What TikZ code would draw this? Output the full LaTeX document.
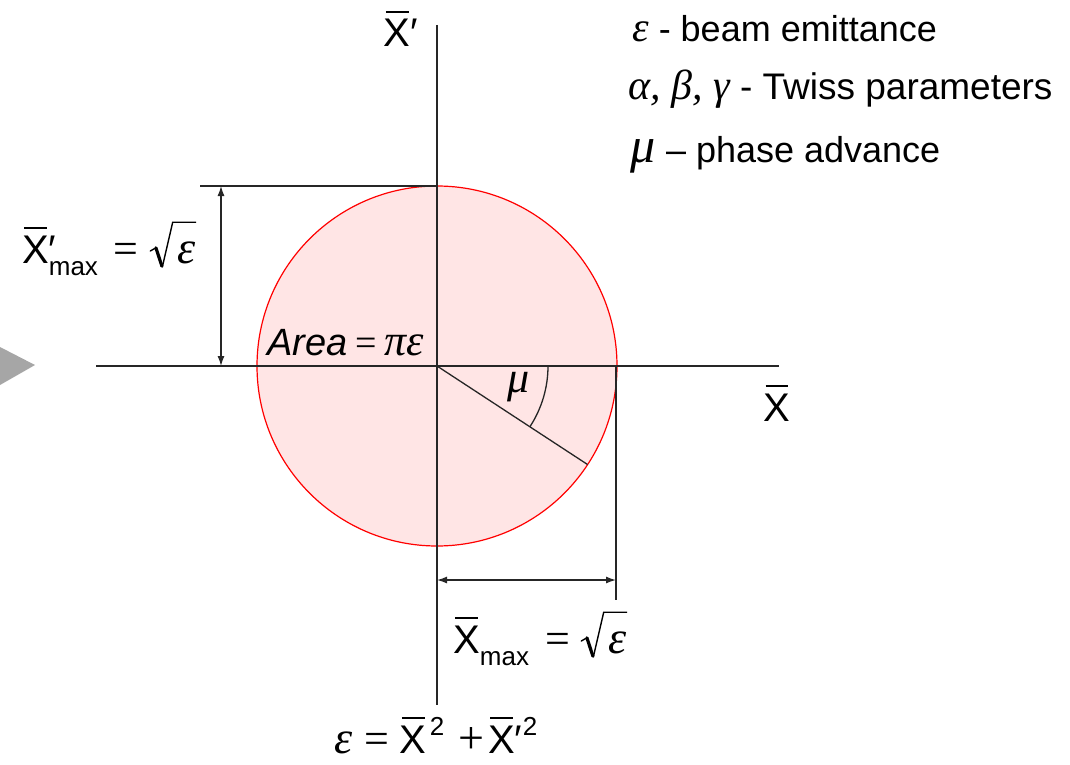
\documentclass[tikz,border=0pt]{standalone}
\usepackage{fontspec}
\setmainfont{Liberation Sans}
\newfontfamily\serif{Liberation Serif}
\usetikzlibrary{arrows.meta,calc}
\newcommand\Xb{\makebox[0pt][l]{\hspace{0.05em}\rule[0.86em]{0.57em}{0.05em}}X}
\newcommand\eqs{\hspace{0.4em}{\serif\fontsize{44}{46}\selectfont =}\hspace{0.27em}}
\newcommand\pls{\hspace{0.35em}{\serif\fontsize{46}{48}\selectfont +}\hspace{0.1em}}
\newcommand\beps{{\serif\itshape\fontsize{46}{50}\selectfont ε}}
\newcommand\sqeps{\tikz[baseline=0pt,x=1em,y=1em]{%
  \node[inner sep=0pt,anchor=base west] (se) at (0.68,0) {\beps};
  \draw[line width=0.035em, line join=round, line cap=round] (0,0.3) -- (0.14,0.38);
  \draw[line width=0.08em, line cap=round] (0.14,0.38) -- (0.29,-0.08);
  \draw[line width=0.035em, line join=miter] (0.3,-0.1) -- (0.56,1.02) -- (se.east |- 0,1.02);}}
\newcommand\subm{\raisebox{-0.3em}{\fontsize{26}{26}\selectfont max}}
\newcommand\supr{\raisebox{0.45em}{\fontsize{26}{26}\selectfont 2}}
\newcommand\supt{\hspace{0.08em}\supr}
\begin{document}
\begin{tikzpicture}[x=1pt,y=1pt,
  axis/.style={line width=1.3pt, draw=black!85},
  dim/.style={line width=1.3pt, draw=black!85, {Latex[length=10pt,width=7pt]}-{Latex[length=10pt,width=7pt]}},
  lbl/.style={inner sep=0pt, font=\fontsize{40}{48}\selectfont},
  leg/.style={inner sep=0pt, anchor=base west, font=\fontsize{36}{40}\selectfont},
  grk/.style={font=\fontsize{44}{48}\selectfont\serif\itshape}]
\useasboundingbox (0,0) rectangle (1070,-765);
% pointer triangle
\fill[black!35] (0,-347) -- (35,-365) -- (0,-385) -- cycle;
% phase-space circle
\coordinate (O) at (437,-366);
\fill[red!10] (O) circle (180pt);
\draw[red, line width=1.2pt] (O) circle (180pt);
% axes
\coordinate (ytop) at (437,-25);
\coordinate (ybot) at (437,-705);
\coordinate (xleft) at (96,-366);
\coordinate (xright) at (779,-366);
\draw[axis] (ytop) -- (ybot);
\draw[axis] (xleft) -- (xright);
% dimension for X'max
\coordinate (topL) at (200,-186);
\coordinate (topR) at (437,-186);
\draw[axis] (topL) -- (topR);
\coordinate (da1) at (221,-186);
\coordinate (da2) at (221,-366);
\draw[dim] (da1) -- (da2);
% dimension for Xmax
\coordinate (rv1) at (616,-366);
\coordinate (rv2) at (616,-600);
\draw[axis] (rv1) -- (rv2);
\coordinate (db1) at (437,-580);
\coordinate (db2) at (616,-580);
\draw[dim] (db1) -- (db2);
% radius and phase angle
\coordinate (P) at ($(O)+(-33.2:180pt)$);
\draw[axis] (O) -- (P);
\draw[axis] ($(O)+(111pt,0)$) arc[start angle=0, end angle=-33.2, radius=111pt];
% labels
\node[lbl, anchor=base] (xp) at (401,-47) {\Xb′};
\node[lbl, anchor=base] (xl) at (777,-421) {\Xb};
\node[lbl, anchor=base west] (xpmax) at (22,-263) {\Xb\rlap{′}\subm\eqs\sqeps};
\node[lbl, anchor=base west] (xmax) at (453,-653) {\Xb\subm\eqs\sqeps};
\node[lbl, anchor=base west] (emit) at (334,-753) {{\serif\itshape\fontsize{46}{48}\selectfont ε}\hspace{-0.1em}\eqs\Xb\supt\pls\Xb\rlap{′}\hspace{0.2em}\supr};
\node[inner sep=0pt, anchor=base west, font=\fontsize{38}{40}\selectfont\itshape] (area) at (267,-355) {Area\hspace{0.2em}{\serif\upshape=}\hspace{0.2em}{\serif\fontsize{44}{46}\selectfont πε}};
\node[grk] (mu) at (519,-387) {μ};
% legend
\node[leg] (l1) at (632,-42) {{\serif\itshape\fontsize{42}{44}\selectfont ε} - beam emittance};
\node[leg] (l2) at (628,-100) {{\serif\itshape\fontsize{42}{44}\selectfont α,\hspace{0.25em}β,\hspace{0.25em}γ}\fontsize{37}{40}\selectfont\ - Twiss parameters};
\node[leg] (l3) at (630,-162) {{\serif\itshape\fontsize{50}{52}\selectfont μ}\hspace{0.3em}– phase advance};
\end{tikzpicture}
\end{document}
